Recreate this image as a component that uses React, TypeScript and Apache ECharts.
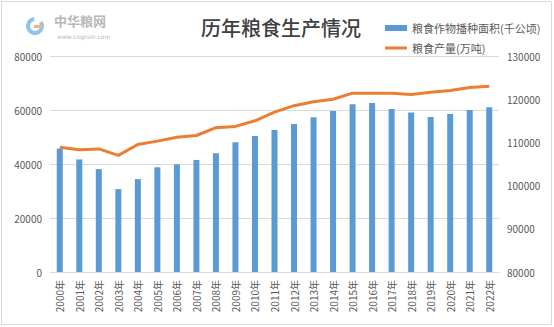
import React, { useEffect, useRef } from "react";
import * as echarts from "echarts";

const years = [
  "2000年", "2001年", "2002年", "2003年", "2004年", "2005年", "2006年", "2007年",
  "2008年", "2009年", "2010年", "2011年", "2012年", "2013年", "2014年", "2015年",
  "2016年", "2017年", "2018年", "2019年", "2020年", "2021年", "2022年",
];
const sownArea = [
  45700, 41700, 38100, 30700, 34400, 38800, 39900, 41500, 44000, 48100, 50400, 52600,
  54800, 57300, 59600, 62100, 62600, 60400, 59100, 57400, 58500, 60000, 61000,
];
const grainOutput = [
  108900, 108300, 108500, 107000, 109500, 110300, 111200, 111600, 113400, 113700, 115000,
  117000, 118500, 119400, 120000, 121400, 121400, 121400, 121100, 121600, 122000, 122700, 123000,
];
const seriesNames = ["粮食作物播种面积(千公顷)", "粮食产量(万吨)"];
const titleText = "历年粮食生产情况";

export default function App() {
  const ref = useRef<HTMLDivElement>(null);
  useEffect(() => {
    if (!ref.current) return;
    const chart = echarts.init(ref.current, undefined, { renderer: "svg" });
    const font = "'Noto Sans CJK SC', 'Noto Sans', sans-serif";
    const plain = (v: number) => String(v);
    chart.setOption({
      animation: false,
      backgroundColor: "#ffffff",
      textStyle: { fontFamily: font },
      title: {
        text: titleText,
        left: 196,
        top: 12,
        textStyle: { fontSize: 20, fontWeight: 500, color: "#404040", fontFamily: font },
      },
      legend: {
        orient: "vertical",
        left: 380,
        top: 16,
        itemWidth: 22,
        itemHeight: 6,
        itemGap: 6,
        symbolKeepAspect: true,
        textStyle: { fontSize: 11, color: "#595959", lineHeight: 14, fontFamily: font },
        data: [
          { name: seriesNames[0], icon: "path://M0 0H22V6H0Z" },
          { name: seriesNames[1], icon: "path://M0 0H22V3H0Z" },
        ],
      },
      grid: { left: 50, right: 55, top: 56, bottom: 55 },
      xAxis: {
        type: "category",
        data: years,
        boundaryGap: true,
        axisLine: { lineStyle: { color: "#d9d9d9" } },
        axisTick: { show: false },
        axisLabel: { rotate: 90, fontSize: 10, color: "#595959", margin: 8, interval: 0 },
      },
      yAxis: [
        {
          type: "value",
          min: 0,
          max: 80000,
          interval: 20000,
          axisLine: { show: false },
          axisTick: { show: false },
          axisLabel: { fontSize: 10, color: "#595959", margin: 8, formatter: plain },
          splitLine: { lineStyle: { color: "#d9d9d9" } },
        },
        {
          type: "value",
          min: 80000,
          max: 130000,
          interval: 10000,
          axisLine: { show: false },
          axisTick: { show: false },
          axisLabel: { fontSize: 10, color: "#595959", margin: 8, formatter: plain },
          splitLine: { show: false },
        },
      ],
      series: [
        {
          name: seriesNames[0],
          type: "bar",
          data: sownArea,
          barWidth: 6,
          itemStyle: { color: "#5b9bd5" },
        },
        {
          name: seriesNames[1],
          type: "line",
          yAxisIndex: 1,
          data: grainOutput,
          showSymbol: false,
          symbol: "none",
          itemStyle: { color: "#ed7d31" },
          lineStyle: { color: "#ed7d31", width: 3 },
        },
      ],
      graphic: [
        {
          type: "rect",
          silent: true,
          shape: { x: 1.5, y: 1.5, width: 550, height: 323 },
          style: { fill: "none", stroke: "#d9d9d9", lineWidth: 1 },
        },
        {
          type: "arc",
          silent: true,
          shape: { cx: 35, cy: 26, r: 7, startAngle: -0.6, endAngle: 4.6 },
          style: { stroke: "#8cc4ee", lineWidth: 4, fill: "none" },
        },
        {
          type: "rect",
          silent: true,
          shape: { x: 34, y: 25, width: 9, height: 3 },
          style: { fill: "#f4b183" },
        },
        {
          type: "text",
          silent: true,
          left: 54,
          top: 14,
          style: {
            text: "中华粮网",
            font: "bold 13px 'Noto Sans CJK SC'",
            lineHeight: 13,
            fill: "#b8b8b8",
          },
        },
        {
          type: "text",
          silent: true,
          left: 57,
          top: 33,
          style: {
            text: "www.cngrain.com",
            font: "6px 'DejaVu Sans'",
            lineHeight: 6,
            fill: "#b8b8b8",
          },
        },
      ],
    });
    return () => chart.dispose();
  }, []);
  return (
    <div
      ref={ref}
      style={{ position: "absolute", left: 0, top: 0, width: 554, height: 327 }}
    />
  );
}
